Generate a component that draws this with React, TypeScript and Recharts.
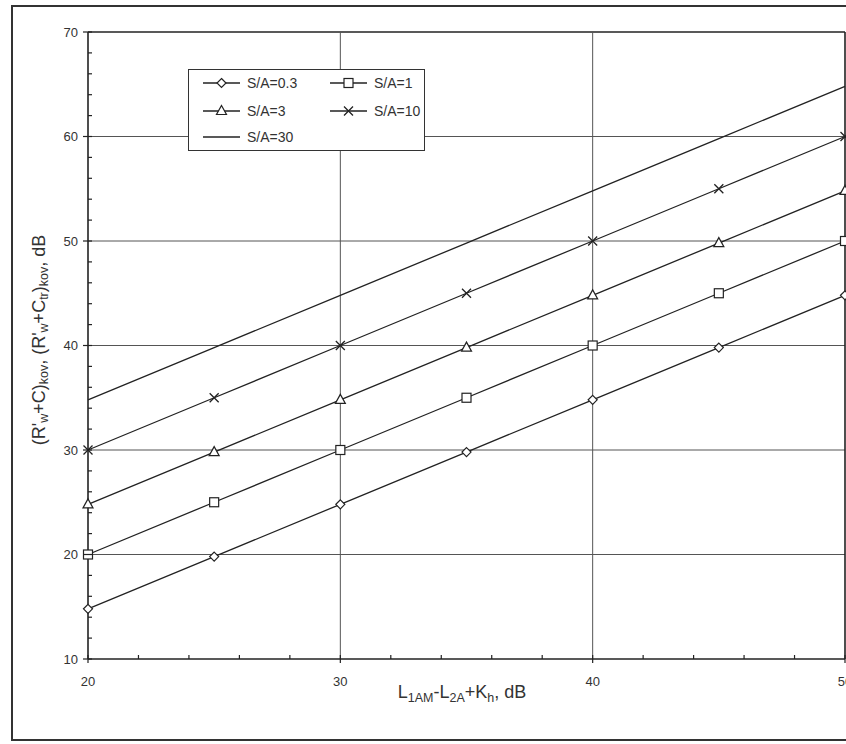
import { Legend, Line, LineChart, ReferenceLine, XAxis, YAxis, Label } from "recharts";

const xValues = [20, 25, 30, 35, 40, 45, 50];
const sa03 = [14.8, 19.8, 24.8, 29.8, 34.8, 39.8, 44.8];
const sa1 = [20, 25, 30, 35, 40, 45, 50];
const sa3 = [24.8, 29.8, 34.8, 39.8, 44.8, 49.8, 54.8];
const sa10 = [30, 35, 40, 45, 50, 55, 60];
const sa30 = [34.8, 39.8, 44.8, 49.8, 54.8, 59.8, 64.8];

const xTicks = [20, 22, 24, 26, 28, 30, 32, 34, 36, 38, 40, 42, 44, 46, 48, 50];
const yTicks = [10, 12, 14, 16, 18, 20, 22, 24, 26, 28, 30, 32, 34, 36, 38, 40, 42, 44, 46, 48, 50, 52, 54, 56, 58, 60, 62, 64, 66, 68, 70];
const hGrid = [20, 30, 40, 50, 60, 70];
const vGrid = [30, 40, 50];

const series = [
  { key: "s03", name: "S/A=0.3", values: sa03, shape: "diamond" },
  { key: "s1", name: "S/A=1", values: sa1, shape: "square" },
  { key: "s3", name: "S/A=3", values: sa3, shape: "triangle" },
  { key: "s10", name: "S/A=10", values: sa10, shape: "cross" },
  { key: "s30", name: "S/A=30", values: sa30, shape: "none" },
];

const data = xValues.map((x, i) => {
  const row: Record<string, number> = { x };
  series.forEach((s) => (row[s.key] = s.values[i]));
  return row;
});

const INK = "#222";
const FONT = "'Liberation Sans', Arial, sans-serif";

function Marker({ shape, cx, cy }: { shape: string; cx: number; cy: number }) {
  const st = { fill: "#fff", stroke: INK, strokeWidth: 1.2 };
  if (shape === "diamond")
    return <path d={`M${cx},${cy - 4.5}L${cx + 4.5},${cy}L${cx},${cy + 4.5}L${cx - 4.5},${cy}Z`} {...st} />;
  if (shape === "square") return <rect x={cx - 4.5} y={cy - 4.5} width={9} height={9} {...st} />;
  if (shape === "triangle")
    return <path d={`M${cx},${cy - 5.5}L${cx + 5},${cy + 3.5}L${cx - 5},${cy + 3.5}Z`} {...st} />;
  if (shape === "cross")
    return (
      <path
        d={`M${cx - 4.5},${cy - 4.5}L${cx + 4.5},${cy + 4.5}M${cx - 4.5},${cy + 4.5}L${cx + 4.5},${cy - 4.5}`}
        stroke={INK}
        strokeWidth={1.3}
        fill="none"
      />
    );
  return null;
}

const dotFor = (shape: string) => (props: any) => {
  const { cx, cy, index } = props;
  return <Marker key={`${shape}-${index}`} shape={shape} cx={cx} cy={cy} />;
};

function YTick(props: any) {
  const { x, y, payload } = props;
  const v = payload.value as number;
  if (v % 10 === 0) {
    return (
      <g>
        <line x1={x - 5} x2={x + 4} y1={y} y2={y} stroke={INK} strokeWidth={1.2} />
        <text x={x - 10} y={y + 4.5} textAnchor="end" fontSize={13} fontFamily={FONT} fill="#333">
          {v}
        </text>
      </g>
    );
  }
  return <line x1={x} x2={x + 4} y1={y} y2={y} stroke={INK} strokeWidth={1.2} />;
}

function XTick(props: any) {
  const { x, y, payload } = props;
  const v = payload.value as number;
  if (v % 10 === 0) {
    return (
      <g>
        <line x1={x} x2={x} y1={y - 4} y2={y + 4} stroke={INK} strokeWidth={1.2} />
        <text x={x} y={y + 27} textAnchor="middle" fontSize={13} fontFamily={FONT} fill="#333">
          {v}
        </text>
      </g>
    );
  }
  return <line x1={x} x2={x} y1={y - 4} y2={y} stroke={INK} strokeWidth={1.2} />;
}

function YTitle() {
  const cx = 40;
  const cy = 340;
  return (
    <text
      x={cx}
      y={cy}
      transform={`rotate(-90, ${cx}, ${cy})`}
      textAnchor="middle"
      fontSize={18}
      fontFamily={FONT}
      fill="#333"
      dominantBaseline="middle"
    >
      <tspan>(R'</tspan>
      <tspan fontSize={12.5} dy={5}>w</tspan>
      <tspan dy={-5}>+C)</tspan>
      <tspan fontSize={12.5} dy={5}>kov</tspan>
      <tspan dy={-5}>, (R'</tspan>
      <tspan fontSize={12.5} dy={5}>w</tspan>
      <tspan dy={-5}>+C</tspan>
      <tspan fontSize={12.5} dy={5}>tr</tspan>
      <tspan dy={-5}>)</tspan>
      <tspan fontSize={12.5} dy={5}>kov</tspan>
      <tspan dy={-5}>, dB</tspan>
    </text>
  );
}

function XTitle() {
  return (
    <text x={462} y={698} textAnchor="middle" fontSize={18} fontFamily={FONT} fill="#333">
      <tspan>L</tspan>
      <tspan fontSize={12.5} dy={4}>1AM</tspan>
      <tspan dy={-4}>-L</tspan>
      <tspan fontSize={12.5} dy={4}>2A</tspan>
      <tspan dy={-4}>+K</tspan>
      <tspan fontSize={12.5} dy={4}>h</tspan>
      <tspan dy={-4}>, dB</tspan>
    </text>
  );
}

function LegendBox() {
  const cols = [15, 142];
  const rows = [14, 42, 68];
  return (
    <svg width={237} height={82} style={{ display: "block" }}>
      <rect x={0.5} y={0.5} width={236} height={81} fill="#fff" stroke="#333" strokeWidth={1} />
      {series.map((s, i) => {
        const lx = cols[i % 2];
        const ly = rows[Math.floor(i / 2)];
        return (
          <g key={s.key}>
            <line x1={lx} x2={lx + 37} y1={ly} y2={ly} stroke={INK} strokeWidth={1.3} />
            <Marker shape={s.shape} cx={lx + 18.5} cy={ly} />
            <text x={lx + 44} y={ly + 5} fontSize={14} fontFamily={FONT} fill="#333">
              {s.name}
            </text>
          </g>
        );
      })}
    </svg>
  );
}

export default function App() {
  return (
    <div
      style={{
        position: "absolute",
        left: 0,
        top: 0,
        width: 846,
        height: 744,
        overflow: "hidden",
        background: "#fff",
      }}
    >
      <div
        style={{
          position: "absolute",
          left: 11,
          top: 5,
          width: 900,
          height: 732,
          border: "2px solid #333",
        }}
      />
      <div style={{ position: "absolute", left: 0, top: 0 }}>
        <LineChart
          width={1000}
          height={744}
          data={data}
          margin={{ top: 32, right: 155, bottom: 25, left: 0 }}
        >
          <XAxis
            type="number"
            dataKey="x"
            domain={[20, 50]}
            ticks={xTicks}
            interval={0}
            height={60}
            tickSize={0}
            tickMargin={0}
            tickLine={false}
            axisLine={{ stroke: INK, strokeWidth: 1.6 }}
            tick={<XTick />}
          >
            <Label content={<XTitle />} />
          </XAxis>
          <YAxis
            type="number"
            domain={[10, 70]}
            ticks={yTicks}
            interval={0}
            width={88}
            tickSize={0}
            tickMargin={0}
            tickLine={false}
            axisLine={{ stroke: INK, strokeWidth: 1.6 }}
            tick={<YTick />}
          >
            <Label content={<YTitle />} />
          </YAxis>
          {hGrid.map((v) => (
            <ReferenceLine key={`h${v}`} y={v} stroke={v === 70 ? INK : "#555"} strokeWidth={v === 70 ? 1.6 : 1} />
          ))}
          {vGrid.map((v) => (
            <ReferenceLine key={`v${v}`} x={v} stroke={v === 50 ? INK : "#555"} strokeWidth={v === 50 ? 1.6 : 1} />
          ))}
          <Legend
            layout="horizontal"
            verticalAlign="middle"
            align="center"
            content={() => <LegendBox />}
            wrapperStyle={{ left: 188, top: 69, width: 237, height: 82 }}
          />
          {series.map((s) => (
            <Line
              key={s.key}
              dataKey={s.key}
              name={s.name}
              type="linear"
              stroke={INK}
              strokeWidth={1.3}
              dot={s.shape === "none" ? false : dotFor(s.shape)}
              activeDot={false}
              isAnimationActive={false}
            />
          ))}
        </LineChart>
      </div>
    </div>
  );
}
